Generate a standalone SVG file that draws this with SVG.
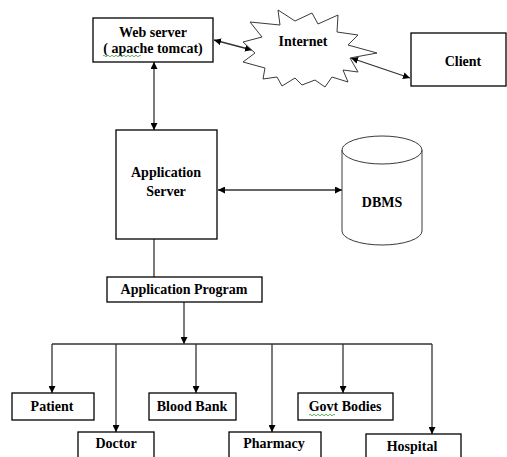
<svg xmlns="http://www.w3.org/2000/svg" width="507" height="457" viewBox="0 0 507 457">
  <defs>
    <marker id="arrow" viewBox="0 0 10 10" refX="10" refY="5" markerWidth="7" markerHeight="7" orient="auto-start-reverse" markerUnits="userSpaceOnUse">
      <path d="M0,0 L10,5 L0,10 z" fill="#000"/>
    </marker>
    <style>
      .box { fill: #fff; stroke: #000; stroke-width: 1.3; }
      .shape { fill: #fff; stroke: #3a3a3a; stroke-width: 1; }
      .line { fill: none; stroke: #333; stroke-width: 1.3; }
      .label { font-family: 'Liberation Serif', serif; font-weight: 700; font-size: 14px; fill: #000; text-anchor: middle; }
      .squiggle { fill: none; stroke: #3c9a3c; stroke-width: 0.8; }
    </style>
  </defs>
  <rect width="507" height="457" fill="#fff"/>

  <!-- connectors -->
  <g id="connectors">
    <line class="line" x1="214" y1="40" x2="252" y2="50" marker-start="url(#arrow)" marker-end="url(#arrow)"/>
    <line class="line" x1="351" y1="58" x2="410" y2="78" marker-start="url(#arrow)" marker-end="url(#arrow)"/>
    <line class="line" x1="154" y1="62" x2="154" y2="130" marker-start="url(#arrow)" marker-end="url(#arrow)"/>
    <line class="line" x1="218" y1="190" x2="342" y2="190" marker-start="url(#arrow)" marker-end="url(#arrow)"/>
    <line class="line" x1="154" y1="239" x2="154" y2="277"/>
    <line class="line" x1="184" y1="302" x2="184" y2="344" marker-end="url(#arrow)"/>
    <line class="line" x1="52" y1="344" x2="432" y2="344"/>
    <line class="line" x1="52" y1="344" x2="52" y2="393" marker-end="url(#arrow)"/>
    <line class="line" x1="432" y1="344" x2="432" y2="434" marker-end="url(#arrow)"/>
    <line class="line" x1="116" y1="344" x2="116" y2="432" marker-end="url(#arrow)"/>
    <line class="line" x1="196" y1="344" x2="196" y2="393" marker-end="url(#arrow)"/>
    <line class="line" x1="272" y1="344" x2="272" y2="432" marker-end="url(#arrow)"/>
    <line class="line" x1="343" y1="344" x2="343" y2="393" marker-end="url(#arrow)"/>
  </g>

  <g id="web-server">
    <rect class="box" x="93" y="18" width="120" height="44"/>
    <text class="label" x="153" y="37">Web server</text>
    <text class="label" x="153" y="53">( apache tomcat)</text>
    <path class="squiggle" d="M103,56 q1,-1.5 2,0 t2,0 t2,0 t2,0 t2,0 t2,0 t2,0 t2,0 t2,0 t2,0 t2,0 t2,0 t2,0 t2,0 t2,0 t2,0 t2,0 t2,0 t2,0"/>
  </g>

  <g id="internet">
    <polygon class="shape" points="278,10 295,21 312,13 318,24 338,15 337,32 358,35 348,45 377,53 350,58 358,72 343,70 348,82 332,77 325,87 315,80 302,85 295,78 282,86 277,77 263,79 265,68 243,62 255,53 243,42 262,37 250,22 280,25"/>
    <text class="label" x="303" y="46">Internet</text>
  </g>

  <g id="client">
    <rect class="box" x="411" y="33" width="95" height="53"/>
    <text class="label" x="463" y="66">Client</text>
  </g>

  <g id="application-server">
    <rect class="box" x="116" y="130" width="101" height="109"/>
    <text class="label" x="166" y="177">Application</text>
    <text class="label" x="166" y="196">Server</text>
  </g>

  <g id="dbms">
    <path class="shape" d="M342,150 L342,231 A40,14 0 0 0 422,231 L422,150"/>
    <ellipse class="shape" cx="382" cy="150" rx="40" ry="14"/>
    <text class="label" x="382" y="207">DBMS</text>
  </g>

  <g id="application-program">
    <rect class="box" x="107" y="277" width="155" height="25"/>
    <text class="label" x="184" y="294">Application Program</text>
  </g>

  <g id="patient">
    <rect class="box" x="12" y="393" width="82" height="27"/>
    <text class="label" x="52" y="411">Patient</text>
  </g>

  <g id="doctor">
    <rect class="box" x="78" y="432" width="76" height="30"/>
    <text class="label" x="116" y="448">Doctor</text>
  </g>

  <g id="blood-bank">
    <rect class="box" x="149" y="393" width="87" height="27"/>
    <text class="label" x="192" y="411">Blood Bank</text>
  </g>

  <g id="pharmacy">
    <rect class="box" x="229" y="432" width="92" height="30"/>
    <text class="label" x="274" y="448">Pharmacy</text>
  </g>

  <g id="govt-bodies">
    <rect class="box" x="298" y="393" width="95" height="27"/>
    <text class="label" x="345" y="411">Govt Bodies</text>
    <path class="squiggle" d="M309,415 q1,-1.5 2,0 t2,0 t2,0 t2,0 t2,0 t2,0 t2,0 t2,0 t2,0 t2,0 t2,0 t2,0 t2,0"/>
  </g>

  <g id="hospital">
    <rect class="box" x="366" y="434" width="95" height="30"/>
    <text class="label" x="412" y="451">Hospital</text>
  </g>
</svg>
